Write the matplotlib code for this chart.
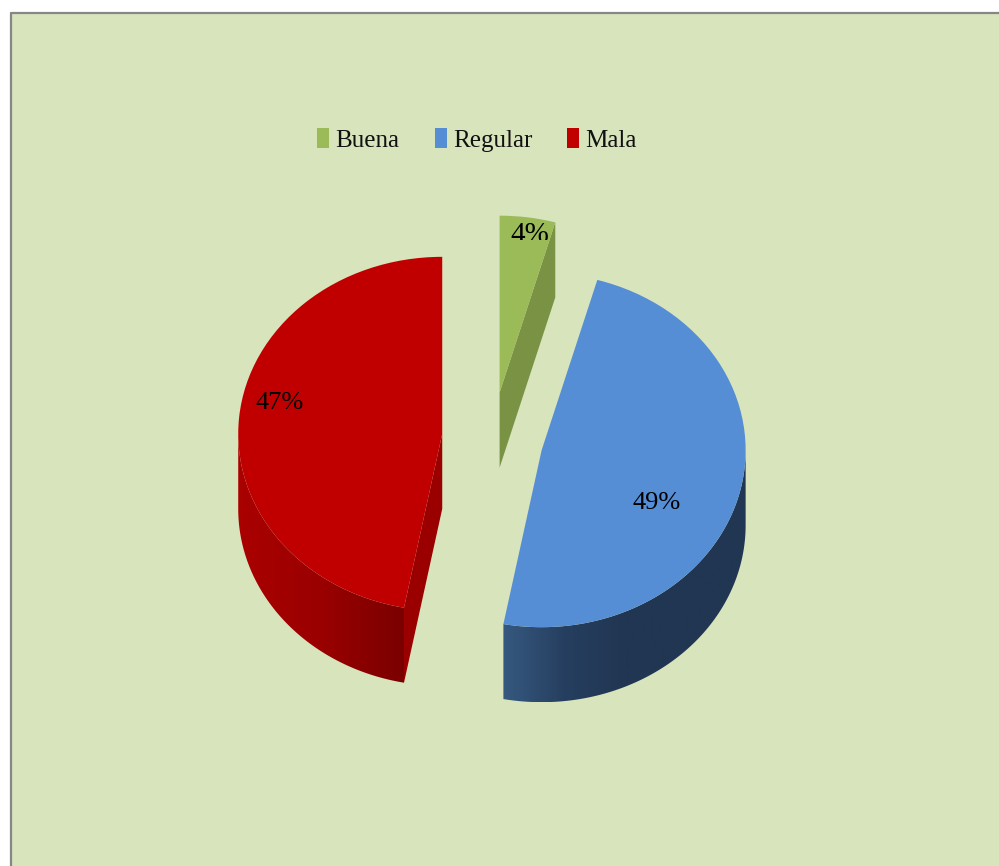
import matplotlib
matplotlib.use('Agg')
import matplotlib.pyplot as plt
import numpy as np
from matplotlib.colors import LinearSegmentedColormap
from matplotlib.lines import Line2D
from matplotlib.patches import Polygon, Rectangle

categories = ['Buena', 'Regular', 'Mala']
values = [4.4, 48.6, 47]
explode = [0.27, 0.25, 0.25]
colors = ['#9BBB59', '#558ED5', '#C00000']
face_colors = ['#7A9243', '#1F3555', '#9A0000']

W, H = 999, 866
CX, CY = 492, 440  # pie centre, pixels
RX, RY = 204, 177  # pie radii, pixels
DEPTH = 75 / RY
BG = '#D8E4BC'
SERIF = 'Liberation Serif'


def ax_pos(px, py):
    return px / W, 1 - py / H


def rim(wedge, theta):
    t = np.radians(theta)
    return np.array([wedge.center[0] + np.cos(t), wedge.center[1] + np.sin(t)])


def draw_wall(ax, wedge, t0, t1, stops):
    # outer side of the slice, gradient runs left to right
    t = np.linspace(t0, t1, 120)
    top = np.array([rim(wedge, a) for a in t])
    bottom = top - [0, DEPTH]
    poly = Polygon(np.vstack([top, bottom[::-1]]), closed=True, fc='none', ec='none',
                   transform=ax.transData)
    ax.add_patch(poly)
    cmap = LinearSegmentedColormap.from_list('wall', stops)
    x0, x1 = top[:, 0].min(), top[:, 0].max()
    y0, y1 = bottom[:, 1].min(), top[:, 1].max()
    im = ax.imshow(np.linspace(0, 1, 256).reshape(1, -1), cmap=cmap, extent=(x0, x1, y0, y1),
                   aspect='auto', zorder=1)
    im.set_clip_path(poly)


def draw_cut(ax, wedge, theta, color):
    # flat cut face of the slice, from centre to rim
    c = np.array(wedge.center)
    r = rim(wedge, theta)
    d = np.array([0, DEPTH])
    ax.add_patch(Polygon([c, r, r - d, c - d], closed=True, fc=color, ec='none', zorder=1.5))


fig = plt.figure(figsize=(W / 100, H / 100), dpi=100, facecolor='white')
ax = fig.add_axes([0, 0, 1, 1])
ax.set_zorder(5)

fig.add_artist(Rectangle((10 / W, 0), 1, 1 - 12 / H, transform=fig.transFigure, fc=BG, ec='none'))
fig.add_artist(Line2D([10.5 / W, 10.5 / W, 1], [0, 1 - 12.5 / H, 1 - 12.5 / H], transform=fig.transFigure,
                      color='#868686', lw=1.6))

wedges, _ = ax.pie(values, explode=explode, colors=colors, startangle=90, counterclock=False,
                   radius=1, center=(0, 0), wedgeprops=dict(linewidth=0))
for w in wedges:
    w.set_zorder(2)

ax.set_aspect('auto')
ax.patch.set_visible(False)

buena, regular, mala = wedges
# red slice sits a little higher than a plain explode puts it
mala.set_center((mala.center[0] + 1 / RX, mala.center[1] + 2 / RY))

draw_cut(ax, buena, buena.theta1, face_colors[0])
draw_cut(ax, mala, mala.theta2, face_colors[2])
draw_wall(ax, regular, regular.theta1, 0, ['#36597F', '#263F60', '#213652', '#213652', '#213652'])
draw_wall(ax, mala, -180, mala.theta2 - 360 if mala.theta2 > 180 else mala.theta2,
          ['#AA0000', '#9A0000', '#7A0000'])

ax.set_xlim(-CX / RX, (W - CX) / RX)
ax.set_ylim((CY - H) / RY, CY / RY)

leg = ax.legend(wedges, categories, ncol=3, loc='center', bbox_to_anchor=(ax_pos(477, 140)),
                bbox_transform=ax.transAxes, frameon=False, handlelength=0.48, handleheight=0.84,
                handletextpad=0.25, columnspacing=1.4, borderpad=0, prop=dict(family=SERIF, size=18))
for t in leg.get_texts():
    t.set_color('#111111')

x, y = ax_pos(280, 403)
ax.text(x, y, f'{values[2]:.0f}%', transform=ax.transAxes, family=SERIF, fontsize=19, ha='center', va='center',
        zorder=5)
x, y = ax_pos(657, 503)
ax.text(x, y, f'{values[1]:.0f}%', transform=ax.transAxes, family=SERIF, fontsize=19, ha='center', va='center',
        zorder=5)

# the 4% label is cut off at the bottom in the original
x, y = ax_pos(530, 222)
small = ax.text(x, y, f'{values[0]:.0f}%', transform=ax.transAxes, family=SERIF, fontsize=21, ha='center', va='top',
                zorder=5)
clip = Rectangle(ax_pos(480, 240), 100 / W, 40 / H, transform=ax.transAxes, fc='none', ec='none')
ax.add_patch(clip)
small.set_clip_path(clip)
small.set_clip_on(True)

fig.savefig('out.png', dpi=100)
